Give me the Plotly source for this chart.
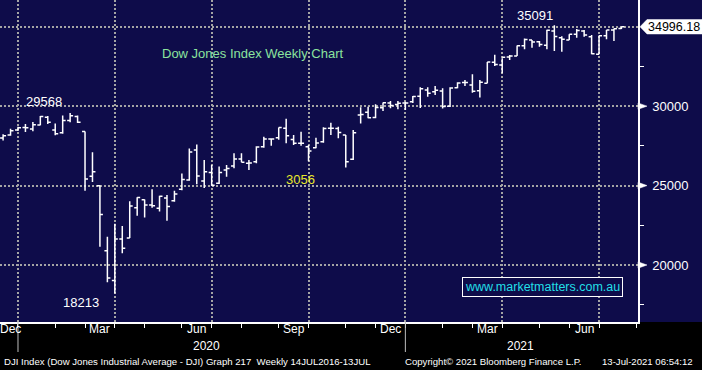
import pandas as pd
import plotly.graph_objects as go

# ---------------- data ----------------
week_end = pd.date_range("2019-12-13", periods=84, freq="7D")

open_ = [28000, 28190, 28490, 28654, 28553, 28820, 29300, 28500, 28320, 29100,
         29340, 28402, 25590, 24992, 20900, 19028, 21637, 21693, 23600, 24100,
         23780, 23580, 24220, 24052, 24765, 25343, 27232, 25290, 25815, 25150,
         25980, 26230, 26670, 26400, 26505, 27450, 27930, 28015, 28605, 27900,
         27660, 27445, 27385, 27760, 28605, 28600, 28185, 26655, 29440, 29610,
         29290, 29900, 30200, 30100, 30200, 30283, 30627, 31015, 30900, 30950,
         30000, 31160, 31480, 31330, 30970, 31440, 32760, 32590, 33100, 33155,
         33800, 34160, 34050, 33830, 34730, 34310, 34160, 34520, 34730, 34370,
         33270, 34430, 34790, 34880]
high = [28225, 28582, 28701, 28872, 29009, 29373, 29374, 28900, 29408, 29568.57,
        29406, 28402, 27102, 25018, 21780, 22595, 22460, 24008, 24264, 24120,
        24764, 24363, 24400, 24680, 25758, 27337, 27580, 26611, 26295, 26204,
        26295, 27030, 27030, 26610, 27470, 28080, 27975, 28654, 29199, 28185,
        28390, 27555, 28015, 28670, 28958, 28700, 28185, 28500, 29933, 29960,
        30116, 30233, 30320, 30320, 30280, 30637, 31193, 31185, 31272, 31120,
        31185, 31500, 31645, 32010, 31645, 32780, 33227, 33010, 33220, 33823,
        34256, 34160, 34100, 34811, 35091.56, 34400, 34520, 34849, 34790, 34470,
        34450, 34800, 34893, 35000]
low = [27840, 28140, 28440, 28376, 28418, 28800, 28870, 28169, 28260, 28990,
       28940, 24681, 25226, 21154, 18917, 18213.65, 20735, 21693, 23098, 22990,
       23600, 23361, 22790, 23985, 24700, 25300, 25082, 24843, 24995, 25100,
       25560, 26085, 26465, 25980, 26400, 27380, 27510, 27880, 27665, 27555,
       27510, 26537, 27345, 27700, 28185, 27975, 26143, 26610, 28902, 29235,
       29235, 29700, 29865, 29800, 29760, 30200, 29881, 30595, 30700, 29856,
       29950, 31120, 31265, 30845, 30548, 31440, 32525, 32065, 32905, 33155,
       33580, 33680, 33740, 33580, 33473, 33430, 34160, 34310, 34370, 33260,
       33260, 34205, 34100, 34860]
close = [28135, 28455, 28645, 28635, 28824, 29348, 28990, 28256, 29103, 29398,
         28992, 25409, 25865, 23186, 19174, 21637, 21053, 23719, 24242, 23775,
         23724, 24331, 23685, 24465, 25383, 27111, 25606, 25871, 25016, 25827,
         26075, 26672, 26470, 26428, 27433, 27931, 27930, 28654, 28133, 27666,
         27657, 27174, 27683, 28587, 28606, 28336, 26502, 28323, 29480, 29263,
         29910, 30218, 30046, 30179, 30200, 30606, 31098, 30814, 30997, 29983,
         31148, 31458, 31494, 30932, 31496, 32779, 32628, 33073, 33153, 33801,
         34201, 34043, 33875, 34778, 34382, 34208, 34529, 34756, 34480, 33290,
         34434, 34786, 34870, 34996.18]

quarter_ticks = ["2019-12-27", "2020-03-27", "2020-06-26", "2020-09-25",
                 "2020-12-25", "2021-03-26", "2021-06-25"]
month_ticks = ["2019-12-27", "2020-01-31", "2020-02-28", "2020-03-27", "2020-04-24",
               "2020-05-29", "2020-06-26", "2020-07-24", "2020-08-28", "2020-09-25",
               "2020-10-30", "2020-11-27", "2020-12-25", "2021-01-29", "2021-02-26",
               "2021-03-26", "2021-04-30", "2021-05-28", "2021-06-25", "2021-07-30"]
month_labels = ["Dec", "Mar", "Jun", "Sep", "Dec", "Mar", "Jun"]
month_label_dates = ["2019-12-20", "2020-03-13", "2020-06-12", "2020-09-11",
                     "2020-12-11", "2021-03-12", "2021-06-11"]
year_labels = ["2020", "2021"]
year_label_dates = ["2020-06-21", "2021-04-12"]
year_breaks = ["2019-12-27", "2020-12-25"]
price_ticks = [20000, 25000, 30000, 35000]
price_tick_text = ["20000", "25000", "30000", ""]
price_minor = [17500, 22500, 27500, 32500]
last_price = close[-1]

title_text = "Dow Jones Index Weekly Chart"
site_text = "www.marketmatters.com.au"
footer_left = "DJI Index (Dow Jones Industrial Average - DJI) Graph 217  Weekly 14JUL2016-13JUL"
footer_mid = "Copyright\u00a9 2021 Bloomberg Finance L.P."
footer_right = "13-Jul-2021 06:54:12"

# ---------------- layout helpers ----------------
W, H = 702, 370
ML, MR, MT, MB = 0, 64, 0, 48
PW, PH = W - ML - MR, H - MT - MB
NAVY = "#0e0c4a"
GRID = "#a4a4a4"
Y_RANGE = [16412, 36681]
UPP = (Y_RANGE[1] - Y_RANGE[0]) / PH  # price units per pixel


def px(x):
    return x / PW


def py(y):
    return 1 - y / PH


anchor = pd.Timestamp(quarter_ticks[0])
x_range = [anchor - pd.Timedelta(days=16.9), anchor + pd.Timedelta(days=582.6)]

fig = go.Figure()
fig.add_trace(go.Ohlc(
    x=week_end, open=open_, high=high, low=low, close=close,
    increasing=dict(line=dict(color="white", width=1.5)),
    decreasing=dict(line=dict(color="white", width=1.5)),
    tickwidth=0.4, showlegend=False, hoverinfo="skip",
))

num_font = "Liberation Sans, Arial, sans-serif"

fig.update_layout(
    template="none",
    width=W, height=H,
    margin=dict(l=ML, r=MR, t=MT, b=MB, pad=0, autoexpand=False),
    paper_bgcolor="black", plot_bgcolor=NAVY,
    showlegend=False,
    xaxis=dict(
        type="date", range=x_range, rangeslider=dict(visible=False),
        automargin=False,
        tickmode="array", tickvals=quarter_ticks, showticklabels=False,
        ticks="outside", ticklen=4, tickcolor="white", tickwidth=1,
        showgrid=True, gridcolor=GRID, gridwidth=2, griddash="2px,2px",
        minor=dict(tickmode="array", tickvals=month_ticks, ticks="outside",
                   ticklen=4, tickcolor="white", tickwidth=1, showgrid=False),
        showline=True, linecolor="white", linewidth=1.5, zeroline=False,
        fixedrange=True,
    ),
    yaxis=dict(
        side="right", range=Y_RANGE, automargin=False,
        tickmode="array", tickvals=price_ticks, ticktext=price_tick_text,
        ticks="", ticklabelstandoff=10,
        tickfont=dict(family=num_font, size=13, color="white"),
        showgrid=True, gridcolor=GRID, gridwidth=2, griddash="2px,2px",
        minor=dict(tickmode="array", tickvals=price_minor, ticks="outside",
                   ticklen=4, tickcolor="white", tickwidth=1, showgrid=False),
        showline=True, linecolor="white", linewidth=1.5, zeroline=False,
        fixedrange=True,
    ),
)

shapes = []
# navy strip behind right axis labels
shapes.append(dict(type="rect", xref="paper", yref="paper", x0=0, x1=W / PW,
                   y0=0, y1=1, fillcolor=NAVY, line=dict(width=0), layer="below"))
# triangles on labelled price ticks
d = 3.2 * UPP
for v in price_ticks[:-1]:
    shapes.append(dict(type="path", xref="paper", yref="y",
                       path=f"M {px(PW)},{v + d} L {px(PW + 9)},{v} L {px(PW)},{v - d} Z",
                       fillcolor="white", line=dict(color="white", width=0.5)))
# last price flag
h = 7.2 * UPP
shapes.append(dict(type="path", xref="paper", yref="y",
                   path=(f"M {px(PW + 2)},{last_price} L {px(PW + 9)},{last_price + h} "
                         f"L {px(W)},{last_price + h} L {px(W)},{last_price - h} "
                         f"L {px(PW + 9)},{last_price - h} Z"),
                   fillcolor="white", line=dict(color="white", width=0.5)))
# year separators
for yb in year_breaks:
    shapes.append(dict(type="line", xref="x", yref="paper", x0=yb, x1=yb,
                       y0=0, y1=py(352), line=dict(color="#bdbdbd", width=1)))
fig.update_layout(shapes=shapes)

ann = []
# last price
ann.append(dict(xref="paper", yref="y", x=px(PW + 8), y=last_price, xanchor="left",
                yanchor="middle", text=f"{last_price:.2f}", showarrow=False,
                font=dict(family=num_font, size=12.5, color="black")))
# title
ann.append(dict(xref="paper", yref="paper", x=px(160), y=py(53), xanchor="left",
                yanchor="middle", text=title_text, showarrow=False,
                font=dict(family=num_font, size=13, color="#8be39e")))
# extreme labels
hi20 = max(high[:30])
hi_all = max(high)
lo_all = min(low)
for txt, cx, cy, col in [(f"{int(hi20)}", 43.5, 101, "white"),
                         (f"{int(hi_all)}", 534.5, 15.5, "white"),
                         (f"{int(lo_all)}", 81, 302, "white"),
                         ("3056", 300, 179, "#e8e82a")]:
    ann.append(dict(xref="paper", yref="paper", x=px(cx), y=py(cy), xanchor="center",
                    yanchor="middle", text=txt, showarrow=False,
                    font=dict(family=num_font, size=13, color=col)))
# website box
ann.append(dict(xref="paper", yref="paper", x=px(542), y=py(287), xanchor="center",
                yanchor="middle", text=site_text, showarrow=False,
                font=dict(family=num_font, size=12.5, color="#22dfe6"),
                bordercolor="white", borderwidth=1, borderpad=2, bgcolor=NAVY))
# month labels
for lab, dt in zip(month_labels, month_label_dates):
    ann.append(dict(xref="x", yref="paper", x=dt, y=py(329), xanchor="center",
                    yanchor="middle", text=lab, showarrow=False,
                    font=dict(family=num_font, size=12, color="white")))
for lab, dt in zip(year_labels, year_label_dates):
    ann.append(dict(xref="x", yref="paper", x=dt, y=py(346), xanchor="center",
                    yanchor="middle", text=lab, showarrow=False,
                    font=dict(family=num_font, size=12, color="white")))
# footer
for txt, x0 in [(footer_left, 2), (footer_mid, 403), (footer_right, 600)]:
    ann.append(dict(xref="paper", yref="paper", x=px(x0), y=py(361), xanchor="left",
                    yanchor="middle", text=txt, showarrow=False,
                    font=dict(family=num_font, size=9.6, color="white")))
fig.update_layout(annotations=ann)

fig.write_html("out.html",
               config={"displayModeBar": False},
               post_script="document.body.style.margin='0px';"
                           "document.body.style.padding='0px';"
                           "document.body.style.background='black';")
